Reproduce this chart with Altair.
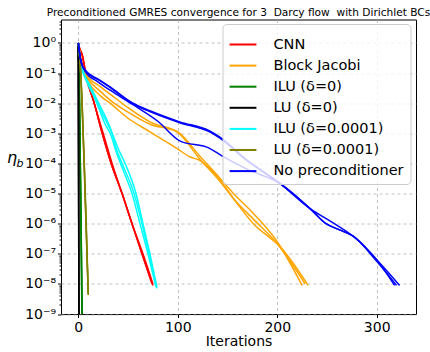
import altair as alt
import pandas as pd

methods = ["CNN", "Block Jacobi", "ILU (δ=0)", "LU (δ=0)", "ILU (δ=0.0001)",
           "LU (δ=0.0001)", "No preconditioner"]
colors = ["#ff0000", "#ffa500", "#008000", "#000000", "#00ffff", "#808000", "#0000ff"]

# each run: iterations and -log10(eta_b)
cnn_it_1 = [0, 1, 4, 7, 16, 24, 33, 44, 54, 64, 74]
cnn_lg_1 = [0, 0.15, 0.41, 1.0, 2.0, 3.0, 4.0, 5.0, 6.0, 7.0, 8.0]
cnn_it_2 = [0, 1, 4, 7, 16, 24, 33, 44, 54, 64, 75]
cnn_lg_2 = [0, 0.15, 0.42, 1.0, 2.0, 3.0, 4.0, 5.0, 6.0, 7.0, 8.05]
cnn_it_3 = [0, 1, 4, 8, 16, 25, 34, 44, 54, 65, 75]
cnn_lg_3 = [0, 0.14, 0.40, 1.05, 2.0, 3.0, 4.0, 5.0, 6.0, 7.0, 8.0]

bj_it_1 = [0, 3, 7, 22, 32, 50, 72, 102, 122, 140, 156, 176, 200, 225]
bj_lg_1 = [0, 0.6, 1.0, 1.45, 1.7, 2.15, 2.62, 3.0, 3.75, 4.4, 5.0, 5.66, 6.6, 8.05]
bj_it_2 = [0, 3, 7, 22, 32, 50, 72, 99, 122, 140, 159, 176, 200, 228]
bj_lg_2 = [0, 0.6, 1.02, 1.6, 1.9, 2.3, 2.7, 2.95, 3.85, 4.5, 5.28, 5.85, 6.67, 8.0]
bj_it_3 = [0, 3, 7, 22, 32, 50, 72, 99, 112, 122, 140, 159, 176, 193, 200, 231]
bj_lg_3 = [0, 0.6, 1.05, 1.75, 2.0, 2.5, 2.95, 3.5, 3.78, 3.9, 4.45, 5.3, 6.0, 6.48, 6.67, 8.05]

ilu0_it_1 = [0, 1, 2, 3, 4]
ilu0_lg_1 = [0, 1.5, 4.0, 6.8, 10.0]
ilu0_it_2 = [0, 1, 2, 3, 4.5]
ilu0_lg_2 = [0, 1.4, 3.8, 6.5, 10.5]
ilu0_it_3 = [0, 1, 2, 3, 4]
ilu0_lg_3 = [0, 1.6, 4.2, 7.0, 10.5]

lu0_it_1 = [0, 1]
lu0_lg_1 = [0, 15]
lu0_it_2 = [0, 1]
lu0_lg_2 = [0, 16]
lu0_it_3 = [0, 1]
lu0_lg_3 = [0, 14]

ilu4_it_1 = [0, 2, 5, 10, 16, 21, 27, 32, 39, 46, 54, 62, 70, 78]
ilu4_lg_1 = [0, 0.6, 1.0, 1.4, 1.8, 2.2, 2.7, 3.0, 3.7, 4.3, 5.0, 6.0, 7.0, 8.1]
ilu4_it_2 = [0, 2, 5, 10, 16, 22, 28, 33, 38, 44, 56, 64, 71, 79]
ilu4_lg_2 = [0, 0.6, 1.0, 1.3, 1.7, 2.1, 2.5, 2.9, 3.5, 4.0, 5.0, 6.0, 7.0, 8.15]
ilu4_it_3 = [0, 2, 5, 10, 16, 22, 28, 34, 40, 47, 58, 65, 72, 79]
ilu4_lg_3 = [0, 0.55, 0.95, 1.35, 1.75, 2.2, 2.6, 3.0, 3.5, 4.0, 5.0, 6.0, 7.0, 8.1]

lu4_it_1 = [0, 2, 4, 6, 8, 10]
lu4_lg_1 = [0, 0.8, 2.3, 4.2, 6.3, 8.37]
lu4_it_2 = [0, 2, 4, 6, 8, 10]
lu4_lg_2 = [0, 0.7, 2.1, 4.0, 6.0, 8.3]
lu4_it_3 = [0, 2, 4, 6, 8, 10]
lu4_lg_3 = [0, 0.75, 2.2, 4.1, 6.2, 8.35]

np_it_1 = [0, 2, 4, 7, 22, 32, 55, 72, 102, 132, 142, 170, 203, 233, 255, 276, 300, 318]
np_lg_1 = [0, 0.5, 0.75, 0.9, 1.24, 1.46, 2.0, 2.25, 2.62, 2.92, 3.12, 3.9, 4.67, 5.5, 5.95,
           6.41, 7.2, 8.05]
np_it_2 = [0, 2, 4, 7, 22, 32, 55, 72, 102, 132, 142, 170, 203, 233, 249, 262, 276, 300, 323]
np_lg_2 = [0, 0.5, 0.75, 0.92, 1.26, 1.48, 2.02, 2.28, 2.65, 2.95, 3.15, 3.92, 4.67, 5.5, 6.0,
           6.2, 6.41, 7.2, 8.05]
np_it_3 = [0, 2, 4, 7, 20, 32, 55, 80, 102, 132, 144, 170, 203, 233, 249, 262, 276, 300, 320]
np_lg_3 = [0, 0.5, 0.75, 0.95, 1.3, 1.57, 2.05, 2.6, 3.25, 3.5, 3.74, 4.2, 4.67, 5.5, 6.0,
           6.2, 6.41, 7.25, 8.05]

runs = {
    "CNN": [(cnn_it_1, cnn_lg_1), (cnn_it_2, cnn_lg_2), (cnn_it_3, cnn_lg_3)],
    "Block Jacobi": [(bj_it_1, bj_lg_1), (bj_it_2, bj_lg_2), (bj_it_3, bj_lg_3)],
    "ILU (δ=0)": [(ilu0_it_1, ilu0_lg_1), (ilu0_it_2, ilu0_lg_2), (ilu0_it_3, ilu0_lg_3)],
    "LU (δ=0)": [(lu0_it_1, lu0_lg_1), (lu0_it_2, lu0_lg_2), (lu0_it_3, lu0_lg_3)],
    "ILU (δ=0.0001)": [(ilu4_it_1, ilu4_lg_1), (ilu4_it_2, ilu4_lg_2), (ilu4_it_3, ilu4_lg_3)],
    "LU (δ=0.0001)": [(lu4_it_1, lu4_lg_1), (lu4_it_2, lu4_lg_2), (lu4_it_3, lu4_lg_3)],
    "No preconditioner": [(np_it_1, np_lg_1), (np_it_2, np_lg_2), (np_it_3, np_lg_3)],
}

rows = []
for mi, m in enumerate(methods):
    for ri, (its, lgs) in enumerate(runs[m]):
        for k, (i, l) in enumerate(zip(its, lgs)):
            rows.append({"method": m, "run": f"{m}-{ri}", "iter": i,
                         "eta": 10 ** (-l), "k": k, "mi": mi})
df = pd.DataFrame(rows)

y_major = [1e0, 1e-1, 1e-2, 1e-3, 1e-4, 1e-5, 1e-6, 1e-7, 1e-8, 1e-9]
y_minor = [m * 10.0 ** e for e in range(-9, 1) for m in range(2, 10) if m * 10.0 ** e < 6]
x_ticks = [0, 100, 200, 300]
title = "Preconditioned GMRES convergence for 3\u00a0\u00a0Darcy flow\u00a0\u00a0with Dirichlet BCs"

xscale = alt.Scale(domain=[-17.4, 339.5], nice=False, zero=False)
yscale = alt.Scale(type="log", domain=[1e-9, 6], nice=False)

label_expr = ("['10⁰','10⁻¹','10⁻²','10⁻³','10⁻⁴','10⁻⁵','10⁻⁶','10⁻⁷','10⁻⁸','10⁻⁹']"
              "[round(-log(datum.value)/LN10)]")

lines = alt.Chart(df).mark_line(strokeWidth=1.5, clip=True, interpolate="monotone").encode(
    x=alt.X("iter:Q", scale=xscale,
            axis=alt.Axis(values=x_ticks, title="Iterations", grid=True, gridDash=[3, 3],
                          gridColor="#b0b0b0", gridWidth=0.8, labelFontSize=14,
                          titleFontSize=14, titleFontWeight="normal", tickSize=3.5,
                          labelPadding=3, titlePadding=0, domain=False)),
    y=alt.Y("eta:Q", scale=yscale,
            axis=alt.Axis(values=y_major, labelExpr=label_expr, title=None, grid=True,
                          gridDash=[3, 3], gridColor="#b0b0b0", gridWidth=0.8,
                          labelFontSize=14, tickSize=3.5, labelPadding=2, domain=False,
                          orient="left")),
    color=alt.Color("method:N", scale=alt.Scale(domain=methods, range=colors),
                    legend=alt.Legend(title=None, orient="none", legendX=161.5, legendY=4.5,
                                      fillColor="rgba(255,255,255,0.8)",
                                      strokeColor="#cccccc", cornerRadius=4, padding=6,
                                      symbolType="stroke", symbolStrokeWidth=2,
                                      symbolSize=720, labelFontSize=14.5, rowPadding=0.1,
                                      labelOffset=16, labelColor="black")),
    detail="run:N",
    order="k:Q",
)

minor = alt.Chart(df).mark_point(opacity=0).encode(
    x=alt.X("iter:Q", scale=xscale),
    y=alt.Y("eta:Q", scale=yscale,
            axis=alt.Axis(values=y_minor, labels=False, title=None, grid=False, tickSize=2,
                          domain=False, orient="left")),
)

eta_txt = alt.Chart(pd.DataFrame({"t": ["η"]})).mark_text(
    fontSize=16, fontStyle="italic", align="center", baseline="alphabetic").encode(
    x=alt.value(-49), y=alt.value(143), text="t:N")
b_txt = alt.Chart(pd.DataFrame({"t": ["b"]})).mark_text(
    fontSize=11, fontStyle="italic", align="center", baseline="alphabetic").encode(
    x=alt.value(-41), y=alt.value(147), text="t:N")

chart = alt.layer(lines, minor, eta_txt, b_txt).resolve_axis(y="independent").properties(
    width=355, height=294.5,
    autosize=alt.AutoSizeParams(type="none"),
    padding={"left": 61, "top": 19.5, "right": 14, "bottom": 38},
    title=alt.TitleParams(title, fontSize=10.6, fontWeight="normal", anchor="middle",
                          baseline="alphabetic", offset=5, dy=12, color="black"),
).configure(font="DejaVu Sans").configure_view(stroke="black", strokeWidth=1).configure_axis(
    labelColor="black", tickColor="black", titleColor="black", labelFont="DejaVu Sans",
    titleFont="DejaVu Sans"
).configure_legend(labelFont="DejaVu Sans").configure_title(font="DejaVu Sans")

chart.save("out.html", embed_options={"renderer": "svg", "actions": False})
